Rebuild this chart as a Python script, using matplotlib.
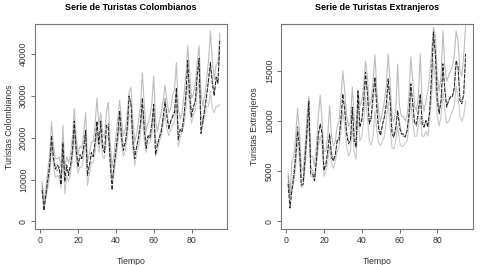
import numpy as np
import matplotlib
matplotlib.use('Agg')
import matplotlib.pyplot as plt

plt.rcParams['font.family'] = ['Liberation Sans', 'DejaVu Sans']

tiempo = np.arange(1, 96)

# Turistas colombianos
col_real = [7500, 2600, 6500, 10000, 13500, 20500, 15000, 12500, 13500, 12800,
            8800, 18800, 9500, 13500, 11000, 13500, 17000, 24000, 17000, 13000,
            16000, 15000, 18000, 21800, 11000, 13500, 16500, 15500, 19000, 24000,
            18500, 24000, 17500, 16500, 23000, 22500, 14000, 7500, 13500, 17000,
            21000, 26500, 20000, 17000, 19000, 22500, 30000, 28000, 19000, 15000,
            18000, 20000, 23500, 29500, 22000, 17500, 20500, 20000, 23000, 28000,
            16000, 18500, 20000, 21500, 25000, 28500, 25000, 22000, 24000, 25000,
            26000, 32000, 19500, 22000, 21500, 25000, 30000, 38500, 30000, 25000,
            27500, 28500, 35000, 39000, 21000, 24000, 27000, 30000, 34000, 38000,
            33000, 30000, 34500, 33000, 43500]
col_ajuste = [8500, 4000, 6000, 9500, 13000, 19000, 16000, 13000, 12000, 13000,
              10500, 17000, 11000, 12500, 12000, 13000, 16000, 22500, 18000, 14000,
              15000, 15500, 17500, 21000, 13000, 13000, 15500, 16000, 18500, 23000,
              20000, 22000, 19000, 17000, 21500, 23500, 16000, 10500, 12500, 16500,
              20000, 25500, 21500, 18000, 18500, 22000, 28000, 28500, 21000, 16500,
              17500, 20500, 23000, 28000, 23500, 19000, 19500, 21000, 23500, 27500,
              19500, 18000, 20500, 22000, 24500, 29500, 26000, 23000, 23500, 25500,
              26500, 31000, 22500, 21500, 22500, 25500, 30500, 36500, 32000, 26500,
              27000, 29500, 34000, 37500, 25500, 24000, 27000, 30500, 33500, 37000,
              34000, 31000, 33500, 34500, 41000]
col_sup = [9500, 5000, 8000, 12000, 16000, 23700, 18000, 15000, 15000, 15500,
           13000, 23000, 12500, 15500, 14000, 16000, 20000, 27000, 20000, 16000,
           18000, 17500, 21000, 26000, 14500, 16000, 19000, 19000, 23000, 29500,
           23000, 26000, 21000, 20000, 26000, 28500, 19000, 13000, 16000, 20000,
           24500, 29000, 24000, 20500, 22000, 25500, 31000, 32000, 24000, 19000,
           21000, 24000, 27500, 35500, 28000, 21500, 23500, 25000, 28000, 34800,
           24000, 21500, 24000, 26000, 29000, 32500, 29000, 26000, 27000, 30000,
           31500, 38000, 27000, 24500, 26000, 30000, 35000, 42000, 36000, 29500,
           30500, 33000, 38000, 42000, 31000, 27500, 30000, 34000, 38500, 45500,
           38500, 34000, 37500, 38000, 45000]
col_inf = [9000, 3500, 5500, 8000, 11000, 18000, 13500, 10500, 11000, 10500,
           8000, 16000, 6600, 11000, 9500, 11500, 15000, 21000, 15000, 11500,
           13000, 13000, 15500, 19500, 8600, 11500, 14000, 14000, 16500, 21500,
           16500, 20500, 15500, 15000, 19500, 21000, 13500, 9500, 11500, 15000,
           18500, 23000, 18500, 15500, 17000, 20000, 25500, 25000, 17000, 13400,
           16000, 18000, 21000, 26000, 19500, 16500, 18500, 19000, 21000, 25000,
           15500, 17000, 19000, 20500, 23000, 26000, 22000, 20500, 22000, 23000,
           24000, 28000, 17800, 20000, 21500, 23000, 27000, 33000, 27000, 23500,
           25500, 26500, 31000, 34000, 23000, 23000, 25500, 27500, 27500, 31000,
           27000, 26000, 27500, 27500, 28000]

# Turistas extranjeros
ext_real = [3730, 1330, 3070, 4400, 6400, 9000, 7400, 3600, 3730, 6400,
            9000, 12000, 4730, 4730, 4070, 6070, 8730, 9730, 8700, 5070,
            5730, 7070, 8730, 6400, 6070, 6730, 8070, 8070, 10400, 12730,
            11070, 8730, 7730, 8070, 11400, 8070, 7400, 13000, 9400, 10070,
            12070, 14900, 12730, 9730, 10400, 12730, 14400, 11070, 9070, 8570,
            9730, 10400, 11730, 14230, 12070, 8730, 8400, 9400, 11070, 9400,
            8730, 8730, 8400, 9070, 10730, 13730, 11730, 9730, 9730, 11070,
            12730, 9730, 9400, 10070, 9400, 11070, 14730, 18900, 16730, 12070,
            10730, 12070, 15730, 13070, 11400, 12070, 12400, 12400, 13400, 16070,
            15400, 12070, 11730, 12730, 16730]
ext_ajuste = [4500, 2500, 3500, 5000, 7000, 9500, 8000, 4500, 4000, 6000,
              9500, 11000, 5500, 5000, 4500, 6000, 8500, 9500, 9000, 5500,
              5500, 7000, 8500, 7000, 6000, 6500, 8000, 8500, 10000, 12000,
              11500, 9000, 8000, 8000, 11000, 9000, 7500, 12000, 10000, 10000,
              11500, 14000, 13000, 10000, 10000, 12000, 14000, 12000, 9500, 8800,
              9500, 10500, 11500, 13500, 12500, 9500, 8500, 9000, 11000, 10000,
              8800, 8500, 8500, 9000, 10500, 13000, 12000, 10000, 9500, 10500,
              12500, 10500, 9500, 10000, 9800, 11000, 14000, 18000, 17000, 13000,
              11000, 12000, 15000, 13500, 11500, 12000, 12500, 12500, 13000, 15500,
              15500, 12500, 12000, 12500, 16000]
ext_sup = [4800, 2800, 5900, 6500, 8500, 11300, 9000, 5500, 5000, 7500,
           10500, 12500, 6500, 6500, 5500, 7500, 10500, 12600, 10000, 7000,
           7000, 8500, 11600, 8500, 7500, 8000, 9500, 10000, 12500, 15000,
           13000, 10500, 9500, 10000, 13400, 10500, 9000, 13200, 11500, 12000,
           13500, 16000, 14500, 11500, 12000, 14000, 16600, 13000, 11000, 10000,
           11000, 12000, 13500, 16700, 14000, 10500, 10000, 11000, 15700, 11500,
           10500, 10500, 10000, 10500, 12500, 16400, 14000, 11500, 11000, 12500,
           16700, 12000, 11000, 12000, 13000, 14500, 17000, 19400, 18500, 14500,
           13000, 14500, 19000, 15500, 14000, 14500, 15000, 15500, 16500, 19000,
           18000, 15000, 14500, 16500, 19500]
ext_inf = [4000, 1500, 3000, 4000, 5500, 8000, 6500, 3400, 3500, 5500,
           8000, 10000, 4500, 4500, 4000, 5500, 7500, 8500, 7500, 4500,
           5000, 6000, 7500, 5800, 5300, 6000, 7000, 7500, 9000, 11000,
           9500, 7500, 6500, 7000, 9500, 7000, 6200, 10500, 8000, 8500,
           10000, 12500, 10500, 8000, 7600, 8500, 11000, 9000, 7800, 7600,
           8000, 8500, 10000, 12000, 9500, 7400, 7200, 8000, 9500, 8000,
           7500, 7500, 7800, 8000, 9500, 12000, 10000, 8500, 8500, 9500,
           10500, 8500, 8500, 9000, 8500, 10000, 12500, 16000, 14000, 10500,
           9500, 10500, 13000, 11000, 9800, 10000, 10500, 11000, 11500, 13500,
           12500, 10500, 10000, 10500, 12000]

xticks = [0, 20, 40, 60, 80]
col_yticks = [0, 10000, 20000, 30000, 40000]
ext_yticks = [0, 5000, 10000, 15000]


def panel(ax, real, ajuste, sup, inf, yticks, ylim, titulo, ylabel):
    ax.plot(tiempo, sup, color='#bdbdbd', lw=0.8)
    ax.plot(tiempo, inf, color='#c8c8c8', lw=0.8)
    ax.plot(tiempo, ajuste, color='#666666', lw=0.7, ls=(0, (1, 1)))
    ax.plot(tiempo, real, color='#222222', lw=0.7, ls=(0, (4, 1.5)))
    ax.set_xlim(-2.76, 98.76)
    ax.set_ylim(*ylim)
    ax.set_xticks(xticks)
    ax.set_yticks(yticks)
    ax.set_yticklabels([str(v) for v in yticks], rotation=90, va='center')
    ax.tick_params(direction='out', length=3, width=0.6, labelsize=6.3,
                   colors='#555555', labelcolor='#333333', pad=2)
    for s in ax.spines.values():
        s.set_color('#777777')
        s.set_linewidth(0.8)
    ax.set_title(titulo, fontsize=6.5, fontweight='bold', pad=10)
    ax.set_xlabel('Tiempo', fontsize=6.3, color='#333333', labelpad=9)
    ax.set_ylabel(ylabel, fontsize=6.3, color='#333333', labelpad=4)


fig = plt.figure(figsize=(4.91, 2.65), dpi=100)
ax1 = fig.add_axes([0.0713, 0.1358, 0.391, 0.7736])
ax2 = fig.add_axes([0.5723, 0.1358, 0.3904, 0.7736])

panel(ax1, col_real, col_ajuste, col_sup, col_inf, col_yticks, (-1816, 47216),
      'Serie de Turistas Colombianos', 'Turistas Colombianos')
panel(ax2, ext_real, ext_ajuste, ext_sup, ext_inf, ext_yticks, (-760, 19700),
      'Serie de Turistas Extranjeros', 'Turistas Extranjeros')

fig.savefig('out.png', dpi=100)
